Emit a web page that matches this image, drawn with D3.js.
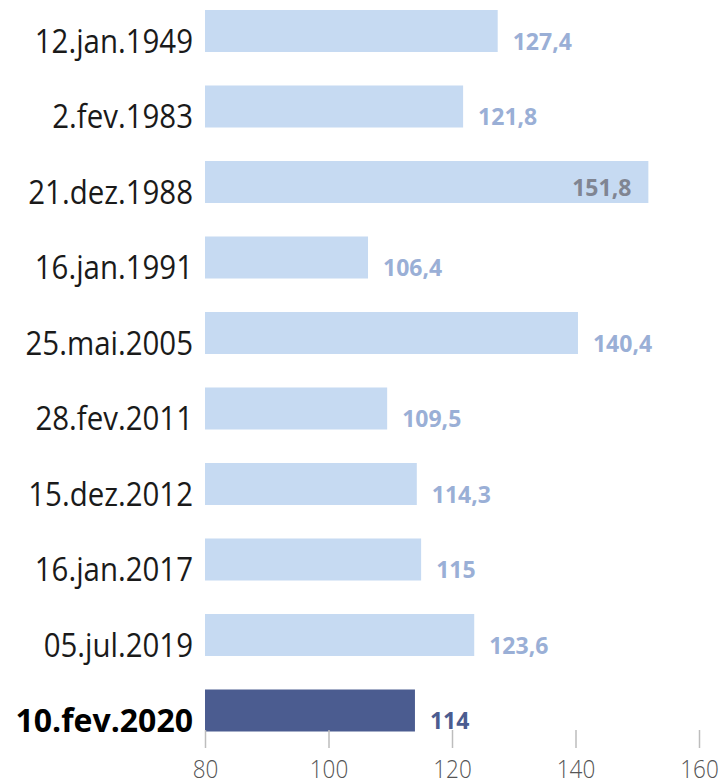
<!DOCTYPE html>
<html>
<head>
<meta charset="utf-8">
<script src="https://cdn.jsdelivr.net/npm/d3@7"></script>
<style>
  body { margin: 0; background: #fff; }
  svg { display: block; font-family: "Open Sans", sans-serif; }
</style>
</head>
<body>
<svg></svg>
<script>
var categories = ["12.jan.1949", "2.fev.1983", "21.dez.1988", "16.jan.1991", "25.mai.2005",
                  "28.fev.2011", "15.dez.2012", "16.jan.2017", "05.jul.2019", "10.fev.2020"];
var values = [127.4, 121.8, 151.8, 106.4, 140.4, 109.5, 114.3, 115, 123.6, 114];
var valueLabels = ["127,4", "121,8", "151,8", "106,4", "140,4", "109,5", "114,3", "115", "123,6", "114"];
var xTicks = [80, 100, 120, 140, 160];

var width = 724, height = 784;
var highlight = "10.fev.2020";

var svg = d3.select("svg")
    .attr("width", width)
    .attr("height", height);

var x = d3.scaleLinear()
    .domain([80, 160])
    .range([205, 699]);

var y = d3.scaleBand()
    .domain(categories)
    .range([10, 731.5])
    .paddingInner(0.4437)
    .paddingOuter(0);

var rows = categories.map(function(c, i) {
  return { cat: c, value: values[i], label: valueLabels[i] };
});

// bars
svg.selectAll(".bar")
    .data(rows)
  .enter().append("rect")
    .attr("class", "bar")
    .attr("x", x(80))
    .attr("y", function(d) { return y(d.cat); })
    .attr("width", function(d) { return x(d.value) - x(80); })
    .attr("height", y.bandwidth())
    .style("fill", function(d) { return d.cat == highlight ? "#4b5c90" : "#c6daf2"; });

// category labels
svg.selectAll(".cat")
    .data(rows)
  .enter().append("text")
    .attr("class", "cat")
    .attr("transform", function(d) {
      var s = d.cat == highlight ? 1.0 : 0.92;
      return "translate(193," + (y(d.cat) + 43) + ") scale(" + s + ",1)";
    })
    .attr("text-anchor", "end")
    .style("font-size", "32px")
    .style("font-weight", function(d) { return d.cat == highlight ? "bold" : "normal"; })
    .style("fill", function(d) { return d.cat == highlight ? "#000" : "#1a1a1a"; })
    .text(function(d) { return d.cat; });

// value labels (largest one sits inside its bar)
var maxVal = d3.max(values);
svg.selectAll(".val")
    .data(rows)
  .enter().append("text")
    .attr("class", "val")
    .attr("x", function(d) { return d.value == maxVal ? x(d.value) - 17 : x(d.value) + 15; })
    .attr("y", function(d) { return y(d.cat) + (d.value == maxVal ? 35 : 40); })
    .attr("text-anchor", function(d) { return d.value == maxVal ? "end" : "start"; })
    .style("font-size", "23px")
    .style("font-weight", "bold")
    .style("fill", function(d) {
      if (d.cat == highlight) return "#4b5c90";
      if (d.value == maxVal) return "#808592";
      return "#9aafd6";
    })
    .text(function(d) { return d.label; });

// x axis
var axis = svg.append("g")
    .attr("transform", "translate(0,730)")
    .call(d3.axisBottom(x).tickValues(xTicks).tickSize(18).tickPadding(12));

axis.select(".domain").remove();
axis.selectAll(".tick line")
    .attr("stroke", "#bdbdbd")
    .attr("stroke-width", 1.5);
axis.selectAll(".tick text")
    .attr("transform", "scale(0.9,1)")
    .style("font-family", "'Open Sans', sans-serif")
    .style("font-size", "25px")
    .style("font-weight", "300")
    .style("fill", "#555");
</script>
</body>
</html>
